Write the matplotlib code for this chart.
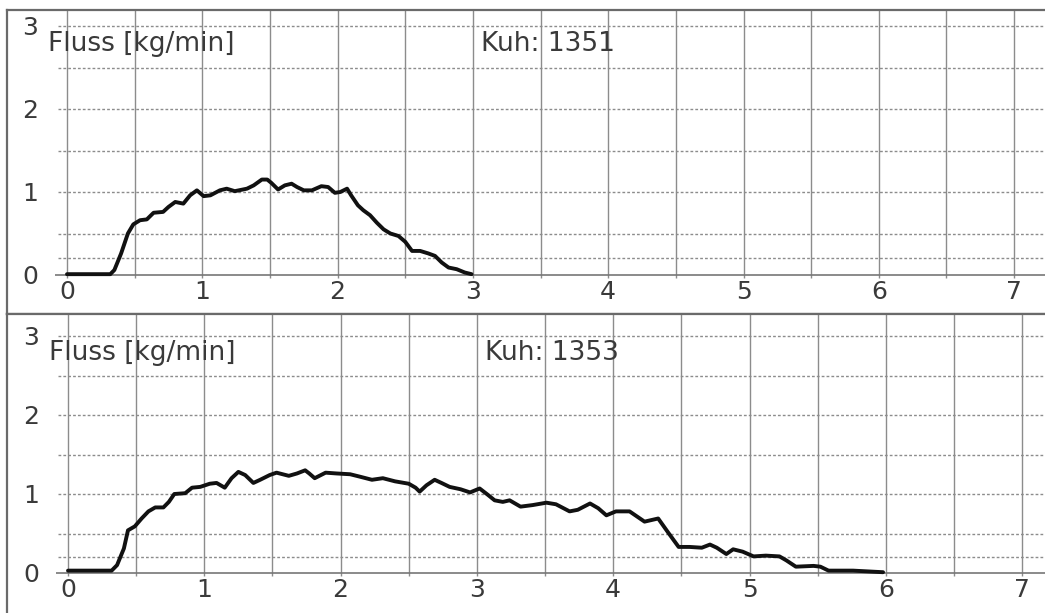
import numpy as np
import matplotlib
matplotlib.use("Agg")
import matplotlib.pyplot as plt

# milk flow curves, time in minutes
t_1351 = [0, 0.32, 0.35, 0.40, 0.45, 0.49, 0.54, 0.59, 0.64, 0.71, 0.75, 0.80, 0.86, 0.91,
          0.96, 1.01, 1.06, 1.13, 1.18, 1.24, 1.33, 1.38, 1.44, 1.48, 1.51, 1.56, 1.61,
          1.66, 1.70, 1.75, 1.81, 1.88, 1.93, 1.98, 2.02, 2.07, 2.10, 2.15, 2.19, 2.24,
          2.29, 2.34, 2.39, 2.45, 2.50, 2.55, 2.61, 2.67, 2.72, 2.77, 2.82, 2.88, 2.94, 2.99]
f_1351 = [0.01, 0.01, 0.06, 0.26, 0.50, 0.61, 0.66, 0.67, 0.75, 0.76, 0.82, 0.88, 0.86, 0.96,
          1.02, 0.95, 0.96, 1.02, 1.04, 1.01, 1.04, 1.08, 1.15, 1.15, 1.11, 1.03, 1.08,
          1.10, 1.06, 1.02, 1.02, 1.07, 1.06, 0.99, 1.00, 1.04, 0.96, 0.84, 0.78, 0.72,
          0.63, 0.55, 0.50, 0.47, 0.40, 0.29, 0.29, 0.26, 0.23, 0.15, 0.09, 0.07, 0.03, 0.01]

t_1353 = [0, 0.32, 0.36, 0.41, 0.44, 0.49, 0.54, 0.59, 0.64, 0.70, 0.74, 0.78, 0.86, 0.91,
          0.97, 1.04, 1.09, 1.15, 1.20, 1.25, 1.30, 1.36, 1.41, 1.48, 1.53, 1.62, 1.68,
          1.74, 1.77, 1.81, 1.89, 1.97, 2.07, 2.14, 2.23, 2.31, 2.40, 2.50, 2.55, 2.58,
          2.63, 2.69, 2.74, 2.80, 2.88, 2.95, 3.02, 3.08, 3.13, 3.19, 3.24, 3.32, 3.41,
          3.51, 3.58, 3.68, 3.74, 3.83, 3.89, 3.95, 4.02, 4.12, 4.23, 4.33, 4.40, 4.48,
          4.56, 4.65, 4.71, 4.76, 4.83, 4.88, 4.95, 5.03, 5.12, 5.22, 5.27, 5.34, 5.47,
          5.52, 5.58, 5.76, 5.98]
f_1353 = [0.03, 0.03, 0.10, 0.31, 0.54, 0.59, 0.69, 0.78, 0.83, 0.83, 0.90, 1.00, 1.01, 1.08,
          1.09, 1.13, 1.14, 1.08, 1.20, 1.28, 1.24, 1.14, 1.18, 1.24, 1.27, 1.23, 1.26,
          1.30, 1.26, 1.20, 1.27, 1.26, 1.25, 1.22, 1.18, 1.20, 1.16, 1.13, 1.08, 1.03,
          1.11, 1.18, 1.14, 1.09, 1.06, 1.02, 1.07, 0.99, 0.92, 0.90, 0.92, 0.84, 0.86,
          0.89, 0.87, 0.78, 0.80, 0.88, 0.82, 0.73, 0.78, 0.78, 0.65, 0.69, 0.52, 0.33,
          0.33, 0.32, 0.36, 0.32, 0.24, 0.30, 0.27, 0.21, 0.22, 0.21, 0.16, 0.08, 0.09,
          0.08, 0.03, 0.03, 0.01]

cows = ["1351", "1353"]
x_ticks = [0, 1, 2, 3, 4, 5, 6, 7]
y_ticks = [0, 1, 2, 3]
y_grid = [0.2, 0.5, 1, 1.5, 2, 2.5, 3]
x_grid = np.arange(0, 7.01, 0.5)

plt.rcParams["font.family"] = ["DejaVu Sans"]

fig = plt.figure(figsize=(10.45, 6.13), dpi=100)
W, H = 1045, 613

# panel boxes in pixels: (left, top, bottom), and pixel positions of x=0, x=1, y=0, y=1
panels = [
    dict(box=(7, 10, 314), x0=67, dx=135.3, y0=275, dy=83, t=t_1351, f=f_1351),
    dict(box=(7, 314, 613), x0=68, dx=136.3, y0=573, dy=79, t=t_1353, f=f_1353),
]

grid_c = "#8c8c8c"
text_c = "#3a3a3a"

for i, (p, cow) in enumerate(zip(panels, cows)):
    left, top, bottom = p["box"]
    ax = fig.add_axes([left / W, 1 - bottom / H, 1 - left / W, (bottom - top) / H])
    ax.set_xlim((left - p["x0"]) / p["dx"], (W - p["x0"]) / p["dx"])
    ax.set_ylim((p["y0"] - bottom) / p["dy"], (p["y0"] - top) / p["dy"])
    ax.set_xticks([])
    ax.set_yticks([])
    for s in ["right", "bottom"]:
        ax.spines[s].set_visible(False)
    for s in ["top", "left"]:
        ax.spines[s].set_color("#6a6a6a")
        ax.spines[s].set_linewidth(1.6)
    if i == 0:
        ax.spines["bottom"].set_visible(True)
        ax.spines["bottom"].set_color("#6a6a6a")
        ax.spines["bottom"].set_linewidth(1.6)

    xmax = ax.get_xlim()[1]
    ymax = ax.get_ylim()[1]
    ax.vlines(x_grid, -0.04, ymax, color=grid_c, lw=1.0, zorder=1)
    ax.hlines(y_grid, -0.07, xmax, color=grid_c, lw=1.0, linestyles=(0, (2, 1.5)), zorder=1)
    ax.hlines(0, -0.09, xmax, color="#777777", lw=1.2, zorder=1)

    ax.plot(p["t"], p["f"], color="#111111", lw=2.8, zorder=3,
            solid_joinstyle="round", solid_capstyle="round")

    for xt in x_ticks:
        ax.text(xt, -0.21, str(xt), ha="center", va="center", fontsize=18, color=text_c)
    for yt in y_ticks:
        ax.text(-0.27, yt - 0.03, str(yt), ha="center", va="center", fontsize=18, color=text_c)

    ax.text(-0.14, 2.78, "Fluss [kg/min]", ha="left", va="center", fontsize=19, color=text_c)
    ax.text(3.06, 2.78, "Kuh: " + cow, ha="left", va="center", fontsize=19, color=text_c)

fig.savefig("out.png", dpi=100)
